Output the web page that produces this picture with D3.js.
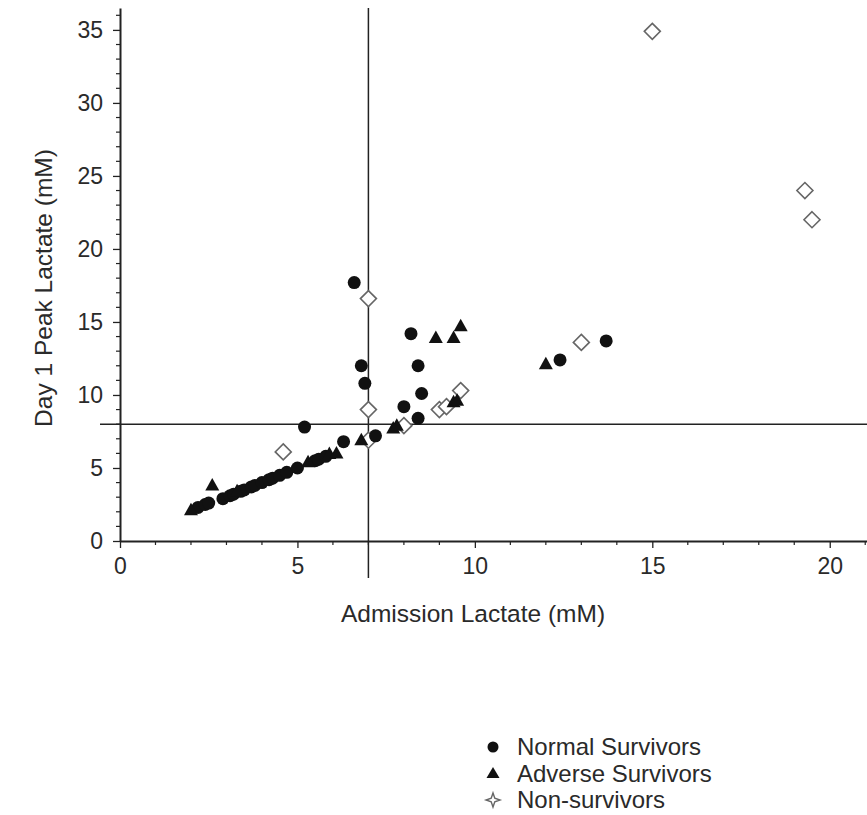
<!DOCTYPE html>
<html>
<head>
<meta charset="utf-8">
<script src="https://cdn.jsdelivr.net/npm/d3@7"></script>
<style>
  body { margin: 0; background: #fff; }
  text { font-family: "Liberation Sans", Arial, sans-serif; fill: #2a2a2a; }
</style>
</head>
<body>
<div id="chart"></div>
<script>
// Data (mM)
var normalX = [2.2, 2.4, 2.5, 2.9, 3.1, 3.2, 3.4, 3.5, 3.7, 3.8, 4.0, 4.2, 4.3, 4.5, 4.7, 5.0, 5.5, 5.6, 5.8, 6.3, 7.2, 5.2, 6.6, 6.8, 6.9, 8.2, 8.4, 8.5, 8.0, 8.4, 12.4, 13.7];
var normalY = [2.3, 2.5, 2.6, 2.9, 3.1, 3.2, 3.4, 3.5, 3.7, 3.8, 4.0, 4.2, 4.3, 4.5, 4.7, 5.0, 5.5, 5.6, 5.8, 6.8, 7.2, 7.8, 17.7, 12.0, 10.8, 14.2, 12.0, 10.1, 9.2, 8.4, 12.4, 13.7];

var adverseX = [2.0, 2.6, 3.3, 5.3, 5.9, 6.1, 6.8, 7.7, 7.8, 8.9, 9.4, 9.6, 9.4, 9.5, 12.0];
var adverseY = [2.1, 3.8, 3.4, 5.4, 5.95, 6.0, 6.9, 7.7, 7.9, 13.9, 13.9, 14.7, 9.5, 9.6, 12.1];

var nonSurvX = [15.0, 19.3, 19.5, 7.0, 7.0, 13.0, 9.6, 9.0, 9.2, 8.0, 4.6, 7.0];
var nonSurvY = [34.9, 24.0, 22.0, 16.6, 9.0, 13.6, 10.3, 9.0, 9.2, 7.9, 6.1, 6.9];

var xTicks = [0, 5, 10, 15, 20];
var yTicks = [0, 5, 10, 15, 20, 25, 30, 35];
var cutX = 7;   // admission lactate threshold
var cutY = 8;   // day 1 peak threshold

var legendLabels = ["Normal Survivors", "Adverse Survivors", "Non-survivors"];

// Set up the chart
var svgWidth = 867;
var svgHeight = 815;

var svg = d3.select("#chart")
  .append("svg")
  .attr("width", svgWidth)
  .attr("height", svgHeight);

var xScale = d3.scaleLinear().domain([0, 21.05]).range([120, 867]);
var yScale = d3.scaleLinear().domain([0, 36.5]).range([541, 8]);

var axisColor = "#222";
var fontStack = "Liberation Sans, Arial, sans-serif";

// minor ticks every 1 mM
var xMinor = d3.range(0, 22, 1).filter(function(d) { return d % 5 !== 0; });
var yMinor = d3.range(0, 37, 1).filter(function(d) { return d % 5 !== 0; });

// x axis
var xAxisG = svg.append("g").attr("transform", "translate(0," + yScale(0) + ")");
xAxisG.call(d3.axisBottom(xScale).tickValues(xTicks).tickSize(7).tickPadding(10).tickSizeOuter(0));
xAxisG.select(".domain").attr("stroke", axisColor).attr("stroke-width", 2);
xAxisG.selectAll(".tick line").attr("stroke", axisColor).attr("stroke-width", 1.3);
xAxisG.selectAll(".tick text").attr("font-size", 23).attr("fill", "#2a2a2a")
  .style("font-family", fontStack);
xAxisG.selectAll(".minor").data(xMinor).enter().append("line")
  .attr("class", "minor")
  .attr("x1", function(d) { return xScale(d); })
  .attr("x2", function(d) { return xScale(d); })
  .attr("y1", 0).attr("y2", 4)
  .attr("stroke", axisColor).attr("stroke-width", 1.2);

// y axis
var yAxisG = svg.append("g").attr("transform", "translate(" + xScale(0) + ",0)");
yAxisG.call(d3.axisLeft(yScale).tickValues(yTicks).tickSize(7).tickPadding(10).tickSizeOuter(0));
yAxisG.select(".domain").attr("stroke", axisColor).attr("stroke-width", 2);
yAxisG.selectAll(".tick line").attr("stroke", axisColor).attr("stroke-width", 1.3);
yAxisG.selectAll(".tick text").attr("font-size", 23).attr("fill", "#2a2a2a")
  .style("font-family", fontStack);
yAxisG.selectAll(".minor").data(yMinor).enter().append("line")
  .attr("class", "minor")
  .attr("y1", function(d) { return yScale(d); })
  .attr("y2", function(d) { return yScale(d); })
  .attr("x1", 0).attr("x2", -4)
  .attr("stroke", axisColor).attr("stroke-width", 1.2);

// threshold lines
svg.append("line")
  .attr("x1", xScale(cutX)).attr("x2", xScale(cutX))
  .attr("y1", yScale(36.5)).attr("y2", yScale(0) + 37)
  .attr("stroke", axisColor).attr("stroke-width", 1.5);
svg.append("line")
  .attr("x1", xScale(0) - 20).attr("x2", svgWidth)
  .attr("y1", yScale(cutY)).attr("y2", yScale(cutY))
  .attr("stroke", axisColor).attr("stroke-width", 1.5);

// axis titles
svg.append("text")
  .attr("x", 473).attr("y", 622)
  .attr("text-anchor", "middle")
  .attr("font-size", 24.5)
  .text("Admission Lactate (mM)");

svg.append("text")
  .attr("transform", "translate(52,288) rotate(-90)")
  .attr("text-anchor", "middle")
  .attr("font-size", 24.5)
  .text("Day 1 Peak Lactate (mM)");

// marker paths
var diamondPath = "M0,-8L8,0L0,8L-8,0Z";
var trianglePath = "M0,-7.5L7,5L-7,5Z";
var starPath = "M0,-7L1.8,-1.8L7,0L1.8,1.8L0,7L-1.8,1.8L-7,0L-1.8,-1.8Z";

var plot = svg.append("g");

// non-survivors (open diamonds)
plot.selectAll(".nonsurv")
  .data(d3.range(nonSurvX.length))
  .enter()
  .append("path")
  .attr("class", "nonsurv")
  .attr("d", diamondPath)
  .attr("transform", function(i) {
    return "translate(" + xScale(nonSurvX[i]) + "," + yScale(nonSurvY[i]) + ")";
  })
  .attr("fill", "#fff")
  .attr("stroke", "#666")
  .attr("stroke-width", 1.6);

// normal survivors (filled circles)
plot.selectAll(".normal")
  .data(d3.range(normalX.length))
  .enter()
  .append("circle")
  .attr("class", "normal")
  .attr("cx", function(i) { return xScale(normalX[i]); })
  .attr("cy", function(i) { return yScale(normalY[i]); })
  .attr("r", 6.5)
  .attr("fill", "#111");

// adverse survivors (filled triangles)
plot.selectAll(".adverse")
  .data(d3.range(adverseX.length))
  .enter()
  .append("path")
  .attr("class", "adverse")
  .attr("d", trianglePath)
  .attr("transform", function(i) {
    return "translate(" + xScale(adverseX[i]) + "," + yScale(adverseY[i]) + ")";
  })
  .attr("fill", "#111");

// legend
var legend = svg.append("g").attr("transform", "translate(493,747)");
var rowGap = 26.5;

legend.append("circle").attr("cx", 0).attr("cy", 0).attr("r", 5.5).attr("fill", "#111");
legend.append("path").attr("d", "M0,-6.5L6.5,4.5L-6.5,4.5Z")
  .attr("transform", "translate(0," + rowGap + ")").attr("fill", "#111");
legend.append("path").attr("d", starPath)
  .attr("transform", "translate(0," + (2 * rowGap) + ")")
  .attr("fill", "#fff").attr("stroke", "#666").attr("stroke-width", 1.4);

legend.selectAll(".legend-text")
  .data(legendLabels)
  .enter()
  .append("text")
  .attr("class", "legend-text")
  .attr("x", 24)
  .attr("y", function(d, i) { return i * rowGap + 8; })
  .attr("font-size", 24)
  .text(function(d) { return d; });
</script>
</body>
</html>
